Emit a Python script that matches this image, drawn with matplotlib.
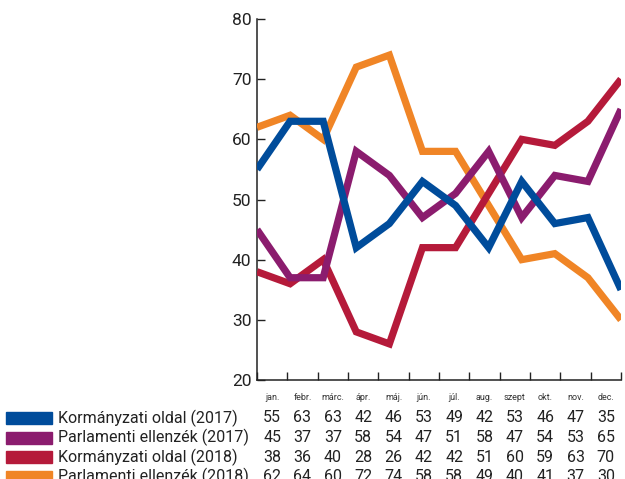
import numpy as np
import matplotlib
matplotlib.use('Agg')
import matplotlib.pyplot as plt
from matplotlib.patches import Rectangle
from matplotlib.transforms import blended_transform_factory

plt.rcParams['font.family'] = ['Roboto', 'DejaVu Sans']

months = ['jan.', 'febr.', 'márc.', 'ápr.', 'máj.', 'jún.', 'júl.', 'aug.', 'szept', 'okt.', 'nov.', 'dec.']
series_names = ['Kormányzati oldal (2017)', 'Parlamenti ellenzék (2017)',
                'Kormányzati oldal (2018)', 'Parlamenti ellenzék (2018)']
korm_2017 = [55, 63, 63, 42, 46, 53, 49, 42, 53, 46, 47, 35]
parl_2017 = [45, 37, 37, 58, 54, 47, 51, 58, 47, 54, 53, 65]
korm_2018 = [38, 36, 40, 28, 26, 42, 42, 51, 60, 59, 63, 70]
parl_2018 = [62, 64, 60, 72, 74, 58, 58, 49, 40, 41, 37, 30]
colors = ['#004c9b', '#8b1c6e', '#b51a3a', '#f08526']

all_series = [korm_2017, parl_2017, korm_2018, parl_2018]

fig = plt.figure(figsize=(6.25, 4.79), dpi=100)
ax = fig.add_axes([257 / 625, 1 - 380 / 479, 364 / 625, 361 / 479])

x = np.arange(len(months))
# draw order: orange, red, purple, blue on top
for i in [3, 2, 1, 0]:
    ax.plot(x, all_series[i], color=colors[i], lw=5.2, solid_joinstyle='miter',
            solid_capstyle='butt', zorder=3 + (3 - i))

n = len(months)
ax.set_xlim(0, n - 1)
ax.set_ylim(20, 80)
bounds = np.linspace(0, n - 1, n + 1)
centers = (bounds[:-1] + bounds[1:]) / 2
ax.set_xticks(bounds)
ax.set_xticklabels([])
ax.tick_params(axis='x', direction='in', length=6, width=1, color='#222222')
ax.set_yticks(range(20, 81, 10))
ax.tick_params(axis='y', direction='in', length=6, width=1, color='#222222',
               labelsize=12.5, pad=4, labelcolor='#222222')
for s in ['top', 'right']:
    ax.spines[s].set_visible(False)
for s in ['left', 'bottom']:
    ax.spines[s].set_color('#222222')
    ax.spines[s].set_linewidth(1.1)

trans = blended_transform_factory(ax.transData, fig.transFigure)

# month labels between the ticks
for c, m in zip(centers, months):
    fig.text(c, 1 - 397 / 479, m, transform=trans, fontsize=6.5, va='center',
             ha='center', color='#333333')

# table under the chart
row_y = [418, 437.5, 457, 476.5]
for i, name in enumerate(series_names):
    yf = 1 - row_y[i] / 479
    fig.add_artist(Rectangle((6 / 625, yf - 6 / 479), 46 / 625, 12 / 479,
                             transform=fig.transFigure, color=colors[i]))
    fig.text(58 / 625, yf, name, fontsize=11.5, va='center', ha='left', color='#222222')
    for c, v in zip(centers, all_series[i]):
        fig.text(c, yf, str(v), transform=trans, fontsize=11.5, va='center',
                 ha='center', color='#222222')

fig.savefig('out.png', dpi=100)
